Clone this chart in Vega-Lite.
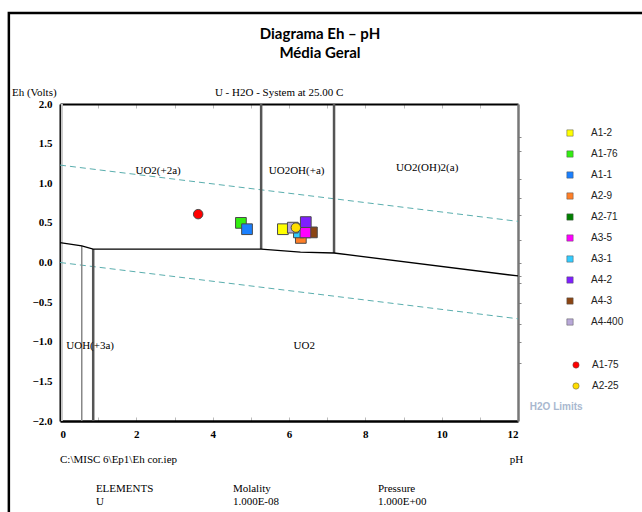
{
  "$schema": "https://vega.github.io/schema/vega-lite/v6.json",
  "width": 458,
  "height": 317,
  "autosize": "none",
  "padding": {"left": 60, "top": 104, "right": 124, "bottom": 91},
  "background": "white",
  "config": {"view": {"stroke": null}, "axis": {"grid": false}},
  "title": {
    "text": ["Diagrama Eh – pH", "Média Geral"],
    "font": "Lato",
    "fontSize": 15,
    "fontWeight": "bold",
    "color": "black",
    "anchor": "middle",
    "frame": "group",
    "dx": 31,
    "offset": -49,
    "lineHeight": 19
  },
  "datasets": {
    "border": [{"x1": -1.34, "x2": 16, "y1": 3.148, "y2": -3.6}],
    "water": [
      {"line": "upper", "ph": 0, "eh": 1.229},
      {"line": "upper", "ph": 12, "eh": 0.519},
      {"line": "lower", "ph": 0, "eh": 0.0},
      {"line": "lower", "ph": 12, "eh": -0.71}
    ],
    "boundary": [
      {"ph": 0, "eh": 0.25},
      {"ph": 0.57, "eh": 0.21},
      {"ph": 0.87, "eh": 0.17},
      {"ph": 5.27, "eh": 0.17},
      {"ph": 6.3, "eh": 0.13},
      {"ph": 7.18, "eh": 0.12},
      {"ph": 12, "eh": -0.17}
    ],
    "vthick": [
      {"ph": 5.27, "lo": 0.17, "hi": 2.0},
      {"ph": 7.18, "lo": 0.12, "hi": 2.0},
      {"ph": 0.87, "lo": -2.0, "hi": 0.17}
    ],
    "vthin": [{"ph": 0.57, "lo": -2.0, "hi": 0.21}],
    "band": [{"ph": 0.05, "lo": -2.0, "hi": 2.0}],
    "squares": [
      {"sample": "A1-2", "ph": 5.84, "eh": 0.42},
      {"sample": "A1-76", "ph": 4.74, "eh": 0.50},
      {"sample": "A1-1", "ph": 4.90, "eh": 0.42},
      {"sample": "A2-9", "ph": 6.31, "eh": 0.31},
      {"sample": "A2-71", "ph": 6.37, "eh": 0.42},
      {"sample": "A4-3", "ph": 6.60, "eh": 0.38},
      {"sample": "A3-1", "ph": 6.26, "eh": 0.38},
      {"sample": "A3-5", "ph": 6.43, "eh": 0.38},
      {"sample": "A4-2", "ph": 6.44, "eh": 0.51},
      {"sample": "A4-400", "ph": 6.10, "eh": 0.44}
    ],
    "circles": [
      {"sample": "A1-75", "ph": 3.62, "eh": 0.61},
      {"sample": "A2-25", "ph": 6.18, "eh": 0.44}
    ],
    "regions": [
      {"label": "UO2(+2a)", "ph": 2.57, "eh": 1.155},
      {"label": "UO2OH(+a)", "ph": 6.2, "eh": 1.155},
      {"label": "UO2(OH)2(a)", "ph": 9.62, "eh": 1.19},
      {"label": "UOH(+3a)", "ph": 0.79, "eh": -1.05},
      {"label": "UO2", "ph": 6.4, "eh": -1.05}
    ],
    "notes": [
      {"label": "Eh (Volts)", "ph": -1.26, "eh": 2.139},
      {"label": "C:\\MISC 6\\Ep1\\Eh cor.iep", "ph": 0.0, "eh": -2.49},
      {"label": "ELEMENTS", "ph": 0.94, "eh": -2.858},
      {"label": "U", "ph": 0.94, "eh": -3.022},
      {"label": "Molality", "ph": 4.53, "eh": -2.858},
      {"label": "1.000E-08", "ph": 4.53, "eh": -3.022},
      {"label": "Pressure", "ph": 8.33, "eh": -2.858},
      {"label": "1.000E+00", "ph": 8.33, "eh": -3.022}
    ],
    "header": [{"label": "U - H2O - System at 25.00 C", "ph": 5.74, "eh": 2.139}],
    "limits": [{"label": "H2O Limits", "ph": 12.31, "eh": -1.82}]
  },
  "layer": [
    {
      "data": {"name": "border"},
      "mark": {"type": "rect", "fill": null, "stroke": "black", "strokeWidth": 2.5},
      "encoding": {
        "x": {"field": "x1", "type": "quantitative", "scale": {"domain": [0, 12], "nice": false, "zero": false}, "axis": null},
        "x2": {"field": "x2"},
        "y": {"field": "y1", "type": "quantitative", "scale": {"domain": [-2, 2], "nice": false, "zero": false}, "axis": null},
        "y2": {"field": "y2"}
      }
    },
    {
      "data": {"name": "band"},
      "mark": {"type": "rule", "stroke": "#c8c8c8", "strokeWidth": 2},
      "encoding": {
        "x": {"field": "ph", "type": "quantitative", "axis": null},
        "y": {"field": "lo", "type": "quantitative", "axis": null},
        "y2": {"field": "hi"}
      }
    },
    {
      "data": {"name": "water"},
      "mark": {"type": "line", "stroke": "#5aaeae", "strokeWidth": 1, "strokeDash": [6, 4]},
      "encoding": {
        "x": {"field": "ph", "type": "quantitative",
          "axis": {"orient": "top", "labels": false, "values": [1,2,3,4,5,6,7,8,9,10,11], "tickSize": -4, "tickColor": "#bbbbbb", "tickWidth": 1, "domainColor": "black", "domainWidth": 2, "title": null}},
        "y": {"field": "eh", "type": "quantitative",
          "axis": {"orient": "right", "labels": false, "values": [1.58, 1.41, 1.05, 0.81, 0.6, 0.28, -0.01, -0.17, -0.26, -0.51, -0.78, -1.0, -1.27], "tickSize": 3, "tickColor": "#888888", "domainColor": "#777777", "domainWidth": 2.5, "title": null}},
        "detail": {"field": "line"}
      }
    },
    {
      "data": {"name": "vthin"},
      "mark": {"type": "rule", "stroke": "#888888", "strokeWidth": 1.5},
      "encoding": {
        "x": {"field": "ph", "type": "quantitative", "axis": null},
        "y": {"field": "lo", "type": "quantitative", "axis": null},
        "y2": {"field": "hi"}
      }
    },
    {
      "data": {"name": "vthick"},
      "mark": {"type": "rule", "stroke": "#555555", "strokeWidth": 2.5},
      "encoding": {
        "x": {"field": "ph", "type": "quantitative", "axis": null},
        "y": {"field": "lo", "type": "quantitative", "axis": null},
        "y2": {"field": "hi"}
      }
    },
    {
      "data": {"name": "boundary"},
      "mark": {"type": "line", "stroke": "black", "strokeWidth": 1.3},
      "encoding": {
        "x": {"field": "ph", "type": "quantitative",
          "axis": {"orient": "bottom", "values": [0,1,2,3,4,5,6,7,8,9,10,11,12], "labelExpr": "datum.value % 2 == 0 ? datum.label : ''", "format": "d", "labelFont": "Liberation Serif", "labelFontWeight": "bold", "labelFontSize": 11, "labelColor": "black", "tickSize": -4, "tickColor": "#bbbbbb", "labelPadding": 11, "domainColor": "black", "domainWidth": 2.5, "title": "pH", "titleFont": "Liberation Serif", "titleFontWeight": "normal", "titleFontSize": 11, "titleColor": "black", "titleX": 456, "titleY": 38, "titleBaseline": "middle", "titleAnchor": "middle", "titleAlign": "center"}},
        "y": {"field": "eh", "type": "quantitative",
          "axis": {"orient": "left", "values": [-2,-1.5,-1,-0.5,0,0.5,1,1.5,2], "format": ".1f", "labelFont": "Liberation Serif", "labelFontWeight": "bold", "labelFontSize": 11, "labelColor": "black", "ticks": false, "labelPadding": 8, "domainColor": "black", "domainWidth": 2, "title": null}}
      }
    },
    {
      "data": {"name": "regions"},
      "mark": {"type": "text", "font": "Liberation Serif", "fontSize": 11, "color": "black", "align": "center", "baseline": "middle"},
      "encoding": {
        "x": {"field": "ph", "type": "quantitative", "axis": null},
        "y": {"field": "eh", "type": "quantitative", "axis": null},
        "text": {"field": "label"}
      }
    },
    {
      "data": {"name": "notes"},
      "mark": {"type": "text", "font": "Liberation Serif", "fontSize": 11, "color": "black", "align": "left", "baseline": "middle"},
      "encoding": {
        "x": {"field": "ph", "type": "quantitative", "axis": null},
        "y": {"field": "eh", "type": "quantitative", "axis": null},
        "text": {"field": "label"}
      }
    },
    {
      "data": {"name": "header"},
      "mark": {"type": "text", "font": "Liberation Serif", "fontSize": 11, "color": "black", "align": "center", "baseline": "middle"},
      "encoding": {
        "x": {"field": "ph", "type": "quantitative", "axis": null},
        "y": {"field": "eh", "type": "quantitative", "axis": null},
        "text": {"field": "label"}
      }
    },
    {
      "data": {"name": "limits"},
      "mark": {"type": "text", "font": "Liberation Sans", "fontSize": 10, "fontWeight": "bold", "color": "#a9b8cf", "align": "left", "baseline": "middle"},
      "encoding": {
        "x": {"field": "ph", "type": "quantitative", "axis": null},
        "y": {"field": "eh", "type": "quantitative", "axis": null},
        "text": {"field": "label"}
      }
    },
    {
      "data": {"name": "squares"},
      "mark": {"type": "point", "shape": "square", "filled": true, "size": 115, "opacity": 1, "stroke": "#4a4a4a", "strokeWidth": 1},
      "encoding": {
        "x": {"field": "ph", "type": "quantitative", "axis": null},
        "y": {"field": "eh", "type": "quantitative", "axis": null},
        "color": {
          "field": "sample", "type": "nominal",
          "scale": {
            "domain": ["A1-2","A1-76","A1-1","A2-9","A2-71","A3-5","A3-1","A4-2","A4-3","A4-400"],
            "range": ["#ffff00","#33ee11","#1a80ff","#ff7f27","#008000","#ff00ff","#33ccff","#7f1fff","#8b4513","#b8a8d8"]
          },
          "legend": {"orient": "none", "legendX": 505, "legendY": 24, "title": null, "symbolType": "square", "symbolSize": 40, "symbolStrokeColor": "#555555", "symbolStrokeWidth": 0.5, "labelFont": "Liberation Sans", "labelFontSize": 10, "labelColor": "#222222", "labelOffset": 16, "rowPadding": 11, "padding": 0}
        }
      }
    },
    {
      "data": {"name": "circles"},
      "mark": {"type": "point", "shape": "circle", "filled": true, "size": 90, "opacity": 1, "stroke": "#4a4a4a", "strokeWidth": 1},
      "encoding": {
        "x": {"field": "ph", "type": "quantitative", "axis": null},
        "y": {"field": "eh", "type": "quantitative", "axis": null},
        "fill": {
          "field": "sample", "type": "nominal",
          "scale": {"domain": ["A1-75","A2-25"], "range": ["#ff0000","#ffdd00"]},
          "legend": {"orient": "none", "legendX": 511, "legendY": 256, "title": null, "symbolType": "circle", "symbolSize": 40, "symbolStrokeColor": "#555555", "symbolStrokeWidth": 0.5, "labelFont": "Liberation Sans", "labelFontSize": 10, "labelColor": "#222222", "labelOffset": 11, "rowPadding": 11, "padding": 0}
        }
      }
    }
  ]
}
